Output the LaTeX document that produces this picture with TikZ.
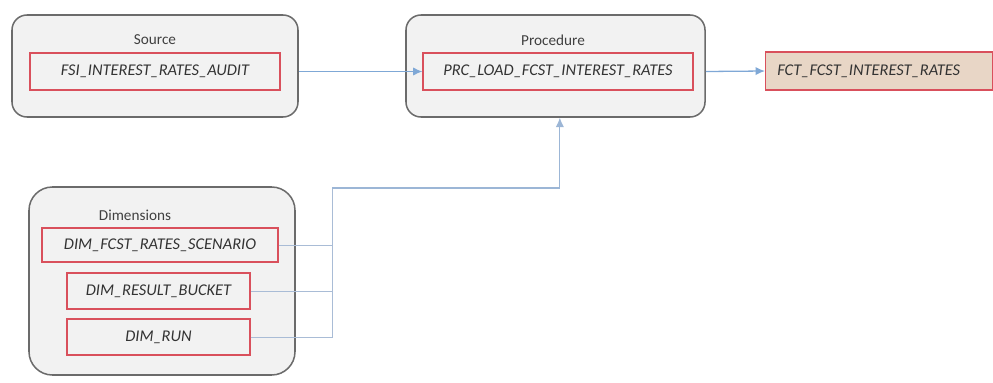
\documentclass[tikz,border=0pt]{standalone}
\usepackage{fontspec}
\setmainfont{Carlito}
\usetikzlibrary{arrows.meta,positioning,calc}

\definecolor{panelfill}{HTML}{F2F2F2}
\definecolor{paneldraw}{HTML}{6B6B6B}
\definecolor{tablered}{HTML}{D9505C}
\definecolor{factfill}{HTML}{E8D6C6}
\definecolor{flowblue}{HTML}{7FA8D6}
\definecolor{linkblue}{HTML}{A9BCD6}

\begin{document}
\begin{tikzpicture}[
  x=0.3mm, y=-0.3mm,
  panel/.style={draw=paneldraw, fill=panelfill, line width=1.3pt, rounded corners=4.5mm},
  title/.style={font=\fontsize{13}{15}\selectfont, text=black!75},
  table/.style={draw=tablered, fill=panelfill, line width=1pt, font=\fontsize{14}{16}\selectfont\itshape, text=black!80, inner sep=0pt},
  flow/.style={draw=flowblue, line width=1.1pt, -{Latex[length=2.8mm,width=2.5mm]}},
  link/.style={draw=linkblue, line width=0.8pt},
  >=Latex
]
  \useasboundingbox (0,0) rectangle (993,382);

  % source
  \node[panel, minimum width=85.8mm, minimum height=30.6mm] (srcbox) at (155,66) {};
  \node[title] (srctitle) at (155,40) {Source};
  \node[table, minimum width=75mm, minimum height=11.1mm] (src) at (155,71.5) {FSI\_INTEREST\_RATES\_AUDIT};

  % procedure
  \node[panel, minimum width=89.7mm, minimum height=30.6mm] (procbox) at (555.5,66) {};
  \node[title] (proctitle) at (553,40) {Procedure};
  \node[table, minimum width=81mm, minimum height=11.1mm] (prc) at (558,71.5) {PRC\_LOAD\_FCST\_INTEREST\_RATES};

  % target
  \node[table, fill=factfill, minimum width=68.1mm, minimum height=11.4mm, text width=61mm, align=left] (fct) at (879,71) {FCT\_FCST\_INTEREST\_RATES};

  % dimensions
  \node[panel, rounded corners=7mm, minimum width=79.8mm, minimum height=56.4mm] (dimbox) at (162,281) {};
  \node[title] (dimtitle) at (135,215) {Dimensions};
  \node[table, minimum width=70.8mm, minimum height=10.2mm] (dim1) at (160,245) {DIM\_FCST\_RATES\_SCENARIO};
  \node[table, minimum width=54.9mm, minimum height=10.8mm] (dim2) at (158.5,291) {DIM\_RESULT\_BUCKET};
  \node[table, minimum width=54.9mm, minimum height=10.8mm] (dim3) at (158.5,337) {DIM\_RUN};

  \coordinate (bus) at (332,188);

  \draw[flow] (src -| srcbox.east) -- (prc.west);
  \draw[flow] (prc -| procbox.east) -- (fct.west);

  \draw[link] (dim1.east) -- (dim1.east -| bus);
  \draw[link] (dim2.east) -- (dim2.east -| bus);
  \draw[link] (dim3.east) -| (bus);
  \draw[flow, draw=linkblue!70!flowblue, line width=0.9pt] (bus) -| ([xshift=1.3mm]procbox.south);
\end{tikzpicture}
\end{document}
